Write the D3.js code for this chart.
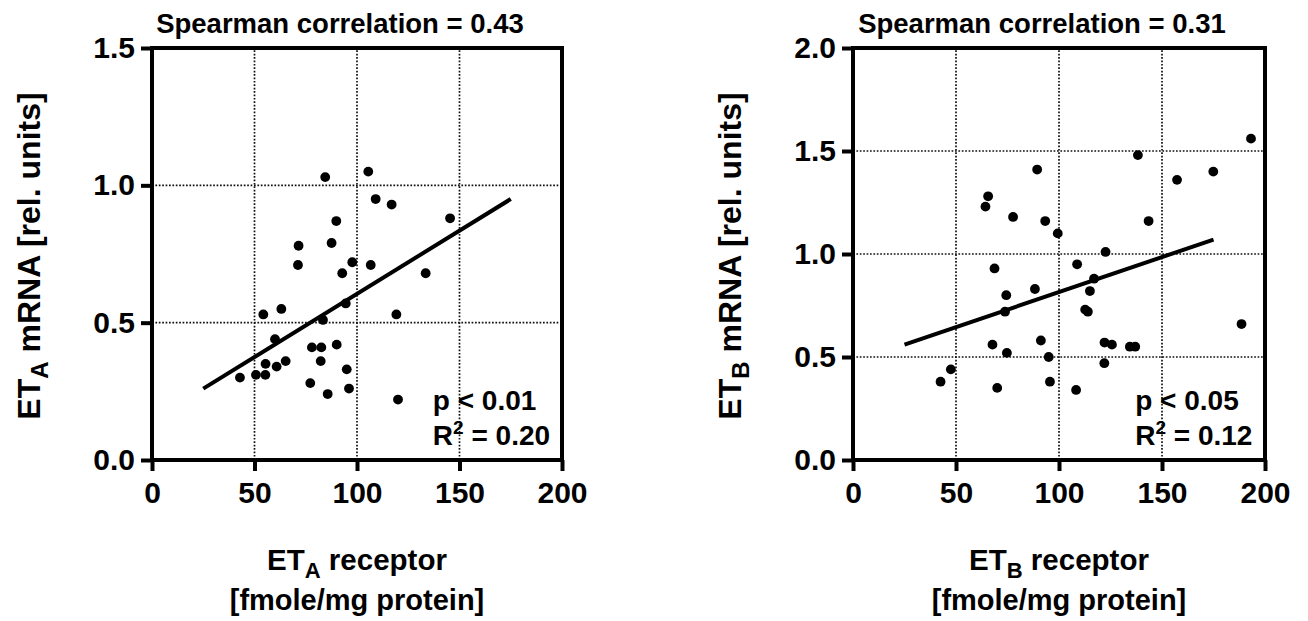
<!DOCTYPE html>
<html>
<head>
<meta charset="utf-8">
<script src="https://cdn.jsdelivr.net/npm/d3@7"></script>
<style>
  body { margin: 0; background: #fff; }
  text { font-family: "Liberation Sans", Arial, sans-serif; font-weight: bold; fill: #000; }
</style>
</head>
<body>
<script>
// Data
//= ================================
// left panel: ET_A receptor vs ET_A mRNA
var etaX = [84.5, 105.5, 109.1, 116.9, 145.4, 89.9, 71.5, 87.6, 71.2, 97.7, 106.7, 92.8, 133.5, 94.5, 54.3, 63.1, 83.4,
  119.2, 60, 78, 82.6, 90.1, 55.4, 60.8, 65.2, 82.3, 95, 42.9, 50.7, 55.3, 77.2, 96.1, 85.7, 120];
var etaY = [1.03, 1.05, 0.95, 0.93, 0.88, 0.87, 0.78, 0.79, 0.71, 0.72, 0.71, 0.68, 0.68, 0.57, 0.53, 0.55, 0.51,
  0.53, 0.44, 0.41, 0.41, 0.42, 0.35, 0.34, 0.36, 0.36, 0.33, 0.30, 0.31, 0.31, 0.28, 0.26, 0.24, 0.22];

// right panel: ET_B receptor vs ET_B mRNA
var etbX = [193.2, 138.3, 89.4, 174.9, 157.3, 65.6, 64.3, 77.7, 93.3, 143.5, 99.4, 122.6, 108.8, 68.7, 117, 88.3,
  115, 74.4, 112.7, 114, 73.8, 67.7, 91.2, 122.1, 125.7, 134.4, 137, 74.7, 95, 188.6, 122, 47.5, 42.5, 70, 95.6, 108.3];
var etbY = [1.56, 1.48, 1.41, 1.40, 1.36, 1.28, 1.23, 1.18, 1.16, 1.16, 1.10, 1.01, 0.95, 0.93, 0.88, 0.83,
  0.82, 0.80, 0.73, 0.72, 0.72, 0.56, 0.58, 0.57, 0.56, 0.55, 0.55, 0.52, 0.50, 0.66, 0.47, 0.44, 0.38, 0.35, 0.38, 0.34];

// regression lines (ends)
var fitX = [25, 175];
var fitA = [0.26, 0.95];
var fitB = [0.56, 1.07];

// ticks
var xTicks = [0, 50, 100, 150, 200];
var yTicksA = [0, 0.5, 1.0, 1.5];
var yTicksB = [0, 0.5, 1.0, 1.5, 2.0];

var titles = ["Spearman correlation = 0.43", "Spearman correlation = 0.31"];
var pTexts = ["p < 0.01", "p < 0.05"];
var r2Texts = ["0.20", "0.12"];
var subs = ["A", "B"];

// Step 1: svg
//= ================================
var svg = d3.select("body")
  .append("svg")
  .attr("width", 1308)
  .attr("height", 621);

svg.append("rect")
  .attr("width", 1308)
  .attr("height", 621)
  .attr("fill", "#fff");

// Step 2: one panel
//= ================================
function drawPanel(p) {
  var xScale = d3.scaleLinear().domain([0, 200]).range([p.left, p.right]);
  var yScale = d3.scaleLinear().domain([0, p.yMax]).range([460, 48]);

  var g = svg.append("g");

  // dotted grid
  g.selectAll(".vgrid")
    .data(xTicks.slice(1, -1))
    .enter()
    .append("line")
    .attr("x1", d => xScale(d))
    .attr("x2", d => xScale(d))
    .attr("y1", yScale(0))
    .attr("y2", yScale(p.yMax))
    .attr("stroke", "#111")
    .attr("stroke-width", 1.7)
    .attr("stroke-dasharray", "1.7,1.7");

  g.selectAll(".hgrid")
    .data(p.yTicks.slice(1, -1))
    .enter()
    .append("line")
    .attr("x1", xScale(0))
    .attr("x2", xScale(200))
    .attr("y1", d => yScale(d))
    .attr("y2", d => yScale(d))
    .attr("stroke", "#111")
    .attr("stroke-width", 1.7)
    .attr("stroke-dasharray", "1.7,1.7");

  // frame
  g.append("rect")
    .attr("x", xScale(0))
    .attr("y", yScale(p.yMax))
    .attr("width", xScale(200) - xScale(0))
    .attr("height", yScale(0) - yScale(p.yMax))
    .attr("fill", "none")
    .attr("stroke", "#000")
    .attr("stroke-width", 4);

  // axes
  var bottomAxis = d3.axisBottom(xScale)
    .tickValues(xTicks)
    .tickSize(11)
    .tickSizeOuter(0)
    .tickPadding(11);
  var leftAxis = d3.axisLeft(yScale)
    .tickValues(p.yTicks)
    .tickFormat(d3.format(".1f"))
    .tickSize(11)
    .tickSizeOuter(0)
    .tickPadding(6);

  var xAxis = g.append("g")
    .attr("transform", `translate(0, ${yScale(0)})`)
    .call(bottomAxis);
  var yAxis = g.append("g")
    .attr("transform", `translate(${xScale(0)}, 0)`)
    .call(leftAxis);

  [xAxis, yAxis].forEach(function(a) {
    a.select(".domain").remove();
    a.selectAll("line").attr("stroke", "#000").attr("stroke-width", 4);
    a.selectAll("text")
      .attr("fill", "#000")
      .style("font-family", "'Liberation Sans', Arial, sans-serif")
      .style("font-weight", "bold")
      .style("font-size", "30px");
  });

  // regression line
  var line = d3.line()
    .x(d => xScale(d[0]))
    .y(d => yScale(d[1]));
  g.append("path")
    .datum(fitX.map((x, i) => [x, p.fit[i]]))
    .attr("d", line)
    .attr("fill", "none")
    .attr("stroke", "#000")
    .attr("stroke-width", 4);

  // points
  g.selectAll("circle")
    .data(p.xs)
    .enter()
    .append("circle")
    .attr("cx", d => xScale(d))
    .attr("cy", (d, i) => yScale(p.ys[i]))
    .attr("r", 4.9)
    .attr("fill", "#000");

  // title
  g.append("text")
    .attr("x", (xScale(0) + xScale(200)) / 2 - 17)
    .attr("y", 33)
    .attr("text-anchor", "middle")
    .style("font-size", "27.5px")
    .text(p.title);

  // p and R2
  g.append("text")
    .attr("x", xScale(137))
    .attr("y", 410)
    .style("font-size", "28px")
    .text(p.pText);

  var r2 = g.append("text")
    .attr("x", xScale(137))
    .attr("y", 445)
    .style("font-size", "28px");
  r2.append("tspan").text("R");
  r2.append("tspan").attr("dy", -11).style("font-size", "19px").text("2");
  r2.append("tspan").attr("dy", 11).text(" = " + p.r2);

  // x axis label
  var xl = g.append("text")
    .attr("x", (xScale(0) + xScale(200)) / 2)
    .attr("y", 570)
    .attr("text-anchor", "middle")
    .style("font-size", "29.5px");
  xl.append("tspan").text("ET");
  xl.append("tspan").attr("dy", 8).style("font-size", "22px").text(p.sub);
  xl.append("tspan").attr("dy", -8).text(" receptor");

  g.append("text")
    .attr("x", (xScale(0) + xScale(200)) / 2)
    .attr("y", 610)
    .attr("text-anchor", "middle")
    .style("font-size", "29px")
    .text("[fmole/mg protein]");

  // y axis label
  var yl = g.append("text")
    .attr("transform", `translate(${xScale(0) - 112}, ${(yScale(0) + yScale(p.yMax)) / 2 + 2}) rotate(-90)`)
    .attr("text-anchor", "middle")
    .style("font-size", "32px");
  yl.append("tspan").text("ET");
  yl.append("tspan").attr("dy", 8).style("font-size", "24px").text(p.sub);
  yl.append("tspan").attr("dy", -8).text(" mRNA [rel. units]");
}

// Step 3: both panels
//= ================================
drawPanel({ left: 152, right: 562, yMax: 1.5, yTicks: yTicksA, xs: etaX, ys: etaY, fit: fitA,
  title: titles[0], pText: pTexts[0], r2: r2Texts[0], sub: subs[0] });
drawPanel({ left: 853, right: 1265, yMax: 2.0, yTicks: yTicksB, xs: etbX, ys: etbY, fit: fitB,
  title: titles[1], pText: pTexts[1], r2: r2Texts[1], sub: subs[1] });
</script>
</body>
</html>
